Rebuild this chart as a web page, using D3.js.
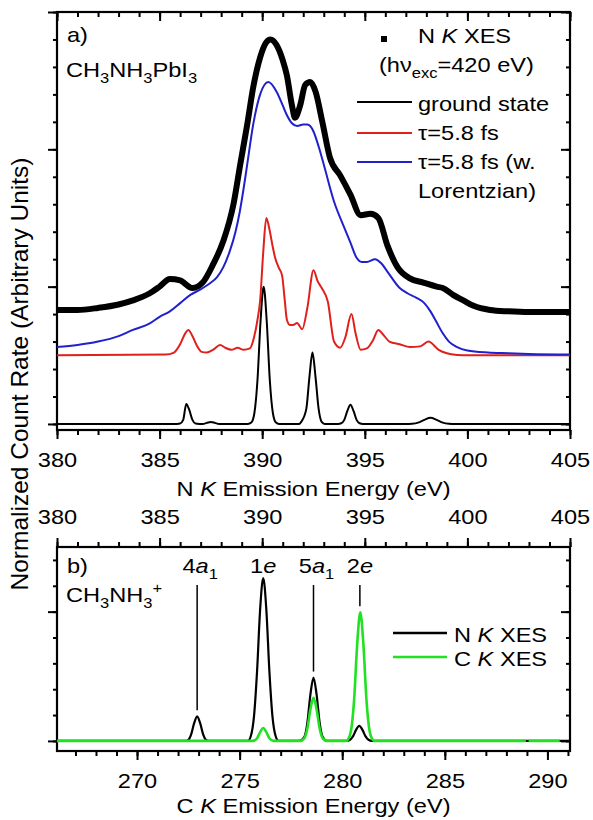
<!DOCTYPE html>
<html>
<head>
<meta charset="utf-8">
<script src="https://cdn.jsdelivr.net/npm/d3@7"></script>
<style>
body { margin: 0; background: #fff; }
svg { display: block; font-family: 'Liberation Sans', Arial, sans-serif; }
</style>
</head>
<body>
<script>
// ---- panel a: N K XES of CH3NH3PbI3 ----
const xesE = [380.0, 381.0, 382.0, 383.0, 383.7, 384.5, 385.0, 385.5, 386.0, 386.6, 387.1, 387.6, 388.1, 388.6, 388.93, 389.27, 389.56, 389.9, 390.2, 390.4, 390.7, 391.0, 391.2, 391.45, 391.6, 391.85, 392.1, 392.34, 392.6, 392.93, 393.3, 393.8, 394.3, 394.8, 395.27, 395.66, 396.1, 396.6, 397.2, 397.85, 398.5, 398.8, 399.3, 399.8, 400.3, 401.1, 402.0, 403.0, 404.0, 405.0];
const xesV = [0.83, 0.83, 0.845, 0.87, 0.90, 0.95, 1.0, 1.055, 1.045, 0.99, 1.03, 1.16, 1.33, 1.60, 1.89, 2.18, 2.45, 2.67, 2.78, 2.80, 2.76, 2.65, 2.54, 2.32, 2.23, 2.32, 2.47, 2.49, 2.42, 2.2, 1.94, 1.81, 1.67, 1.52, 1.53, 1.5, 1.3, 1.14, 1.06, 1.03, 1.0, 0.99, 0.94, 0.90, 0.86, 0.83, 0.82, 0.815, 0.815, 0.815];

const gsE = [380, 385.7, 386.0, 386.15, 386.3, 386.45, 386.6, 386.75, 387.1, 387.3, 387.5, 387.7, 387.9, 389.3, 389.47, 389.62, 389.77, 389.92, 390.07, 390.22, 390.37, 390.52, 390.67, 390.82, 391.8, 391.9, 392.15, 392.3, 392.45, 392.6, 392.75, 392.9, 393.05, 393.7, 393.85, 394.0, 394.15, 394.3, 394.45, 394.6, 394.75, 394.9, 397.0, 397.3, 397.6, 397.9, 398.2, 398.5, 398.8, 399.1, 399.4, 405];
const gsV = [0, 0, 0.004, 0.03, 0.146, 0.10, 0.03, 0.004, 0, 0.008, 0.015, 0.008, 0, 0, 0.01, 0.08, 0.32, 0.75, 1.0, 0.75, 0.32, 0.08, 0.01, 0, 0, 0.015, 0.11, 0.34, 0.52, 0.34, 0.11, 0.015, 0, 0, 0.005, 0.03, 0.095, 0.14, 0.095, 0.03, 0.005, 0, 0, 0.002, 0.01, 0.03, 0.045, 0.03, 0.01, 0.002, 0, 0];

const tauE = [380, 385.3, 385.7, 386.0, 386.25, 386.4, 386.6, 386.8, 387.05, 387.3, 387.6, 387.95, 388.2, 388.5, 388.8, 389.1, 389.4, 389.6, 389.76, 389.9, 390.05, 390.2, 390.35, 390.5, 390.63, 390.8, 390.97, 391.1, 391.2, 391.35, 391.5, 391.7, 391.95, 392.2, 392.5, 392.7, 392.9, 393.2, 393.5, 393.8, 394.05, 394.35, 394.55, 394.8, 395.1, 395.4, 395.66, 395.9, 396.2, 396.7, 397.2, 397.7, 398.1, 398.6, 399.0, 399.5, 400.0, 405];
const tauV = [0.50, 0.505, 0.52, 0.58, 0.66, 0.685, 0.64, 0.575, 0.525, 0.52, 0.54, 0.575, 0.555, 0.54, 0.555, 0.54, 0.55, 0.63, 0.75, 0.9, 1.25, 1.50, 1.42, 1.30, 1.21, 1.14, 1.08, 0.9, 0.76, 0.72, 0.72, 0.735, 0.69, 0.845, 1.12, 1.04, 0.99, 0.89, 0.60, 0.555, 0.63, 0.80, 0.66, 0.54, 0.55, 0.61, 0.685, 0.65, 0.60, 0.58, 0.56, 0.565, 0.60, 0.54, 0.515, 0.503, 0.50, 0.50];

const lorE = [380, 381, 382, 383, 383.7, 384.5, 385.0, 385.5, 386.0, 386.5, 387.0, 387.5, 387.8, 388.1, 388.4, 388.7, 388.9, 389.1, 389.27, 389.56, 389.9, 390.3, 390.7, 391.0, 391.2, 391.45, 391.7, 392.0, 392.2, 392.5, 392.75, 393.0, 393.5, 394.0, 394.3, 394.6, 394.85, 395.1, 395.5, 395.8, 396.1, 396.7, 397.1, 397.5, 397.9, 398.2, 398.5, 398.8, 399.1, 399.5, 400.0, 401.0, 402.0, 403.0, 405.0];
const lorV = [0.56, 0.575, 0.60, 0.64, 0.685, 0.73, 0.78, 0.82, 0.88, 0.94, 0.98, 1.03, 1.07, 1.14, 1.25, 1.40, 1.54, 1.72, 1.89, 2.18, 2.40, 2.49, 2.42, 2.32, 2.25, 2.19, 2.17, 2.18, 2.18, 2.13, 2.02, 1.89, 1.62, 1.43, 1.32, 1.21, 1.18, 1.18, 1.2, 1.17, 1.11, 0.99, 0.95, 0.92, 0.88, 0.82, 0.74, 0.66, 0.60, 0.56, 0.535, 0.52, 0.515, 0.51, 0.505];

// ---- panel b: CH3NH3+ calculated N K / C K XES ----
const nkE = [266.1, 272.35, 272.5, 272.63, 272.78, 272.93, 273.08, 273.23, 273.36, 273.5, 275.4, 275.55, 275.7, 275.85, 276.0, 276.15, 276.3, 276.45, 276.6, 276.75, 276.9, 277.9, 278.15, 278.3, 278.45, 278.6, 278.75, 278.9, 279.05, 279.25, 280.2, 280.38, 280.53, 280.68, 280.83, 280.98, 281.13, 281.28, 281.45, 291.1];
const nkV = [0, 0, 0.008, 0.047, 0.135, 0.19, 0.135, 0.047, 0.008, 0, 0, 0.04, 0.19, 0.54, 1.02, 1.26, 1.02, 0.54, 0.19, 0.04, 0, 0, 0.03, 0.14, 0.36, 0.49, 0.36, 0.14, 0.03, 0, 0, 0.009, 0.037, 0.087, 0.116, 0.087, 0.037, 0.009, 0, 0];

const ckE = [266.1, 275.65, 275.85, 276.0, 276.15, 276.3, 276.45, 276.65, 277.95, 278.15, 278.3, 278.45, 278.6, 278.75, 278.9, 279.05, 279.25, 280.2, 280.28, 280.43, 280.58, 280.73, 280.88, 281.03, 281.18, 281.33, 281.48, 281.58, 288.95, 289.02, 289.08, 290.6];
const ckV = [0, 0, 0.021, 0.068, 0.10, 0.068, 0.021, 0, 0, 0.02, 0.096, 0.245, 0.333, 0.245, 0.096, 0.02, 0, 0, 0.01, 0.08, 0.32, 0.75, 0.995, 0.75, 0.32, 0.08, 0.01, 0, 0, null, 0, 0];

const peakNames = [['4', ['a', 'i'], ['1', 'sub']], ['1', ['e', 'i']], ['5', ['a', 'i'], ['1', 'sub']], ['2', ['e', 'i']]];
const peakE = [272.93, 276.15, 278.6, 280.86];
const peakTop = [0.19, null, 0.49, 0.995];

const majorN = [380, 385, 390, 395, 400, 405];
const majorC = [270, 275, 280, 285, 290];

const W = 593, H = 820;
const FS = 20, SX = 1.18;
const red = '#e0201c', blue = '#2020cc', green = '#22e022';

const svg = d3.select('body').append('svg').attr('width', W).attr('height', H);

const xa = d3.scaleLinear([380, 405], [57, 570]);
const ya = d3.scaleLinear([-0.044, 3], [430, 12]);
const xbTop = d3.scaleLinear([380, 405], [57, 570]);
const xb = d3.scaleLinear([266.1, 291.1], [57, 570]);
const yb = d3.scaleLinear([-0.078, 1.5], [751, 547]);

function rich(x, y, parts, anchor = 'start', size = FS) {
    const t = svg.append('text')
        .attr('transform', `translate(${x},${y}) scale(${SX},1)`)
        .attr('text-anchor', anchor)
        .style('font-size', size + 'px');
    let shift = 0;
    parts.forEach(p => {
        const [str, kind] = typeof p === 'string' ? [p, ''] : p;
        const s = t.append('tspan').text(str);
        const want = kind === 'sub' ? 6 : kind === 'sup' ? -9 : 0;
        if (want !== shift) { s.attr('dy', want - shift); shift = want; }
        if (kind === 'sub' || kind === 'sup') s.style('font-size', '14px');
        if (kind === 'i') s.style('font-style', 'italic');
    });
    return t;
}

function styleAxis(g) {
    g.attr('font-size', null).attr('font-family', null);
    g.select('.domain').remove();
    g.selectAll('line').attr('stroke-width', 2);
}

// horizontal axis: minor + major ticks, optional labels at baseline offset
function hAxis(scale, y, major, minor, down, labelY) {
    const mk = () => down ? d3.axisBottom(scale) : d3.axisTop(scale);
    svg.append('g').attr('transform', `translate(0,${y})`)
        .call(mk().tickValues(minor).tickSize(5).tickFormat(''))
        .call(styleAxis);
    const g = svg.append('g').attr('transform', `translate(0,${y})`)
        .call(mk().tickValues(major).tickSize(9).tickFormat(labelY == null ? '' : d3.format('d')))
        .call(styleAxis);
    if (labelY != null) {
        g.selectAll('text')
            .attr('y', labelY).attr('dy', null)
            .attr('transform', `scale(${SX},1)`)
            .style('font-size', FS + 'px');
    }
}

function vAxis(scale, x, major, minor) {
    svg.append('g').attr('transform', `translate(${x},0)`)
        .call(d3.axisLeft(scale).tickValues(minor).tickSize(4).tickFormat(''))
        .call(styleAxis);
    svg.append('g').attr('transform', `translate(${x},0)`)
        .call(d3.axisLeft(scale).tickValues(major).tickSize(9).tickFormat(''))
        .call(styleAxis);
}

const minorN = d3.range(380, 405.5, 1);
const minorC = d3.range(267, 291.5, 1);

// panel a axes
hAxis(xa, 430, majorN, minorN, true, 37);
hAxis(xa, 12, majorN, minorN, true, null);
vAxis(ya, 57, [0, 1, 2, 3], d3.range(0, 3.01, 0.2));
vAxis(ya, 570, [0, 1, 2, 3], d3.range(0, 3.01, 0.2));
svg.append('rect').attr('x', 57).attr('y', 12).attr('width', 513).attr('height', 418)
    .attr('fill', 'none').attr('stroke', '#000').attr('stroke-width', 2.2);

// panel b axes
hAxis(xbTop, 547, majorN, minorN, false, -23);
hAxis(xb, 751, majorC, minorC, true, 37);
vAxis(yb, 57, [0, 1], d3.range(0, 1.41, 0.2));
vAxis(yb, 570, [0, 1], d3.range(0, 1.41, 0.2));
svg.append('rect').attr('x', 57).attr('y', 547).attr('width', 513).attr('height', 204)
    .attr('fill', 'none').attr('stroke', '#000').attr('stroke-width', 2.2);

// curves
const lineA = d3.line().x(d => xa(d[0])).y(d => ya(d[1])).curve(d3.curveMonotoneX);
const lineB = d3.line().defined(d => d[1] != null).x(d => xb(d[0])).y(d => yb(d[1])).curve(d3.curveMonotoneX);
const pairs = (E, V) => E.map((e, i) => [e, V[i]]);

function curve(line, E, V, color, w) {
    svg.append('path').datum(pairs(E, V)).attr('d', line)
        .attr('fill', 'none').attr('stroke', color).attr('stroke-width', w)
        .attr('stroke-linejoin', 'round');
}

curve(lineA, gsE, gsV, '#000', 2);
curve(lineA, tauE, tauV, red, 2);
curve(lineA, lorE, lorV, blue, 2);
curve(lineA, xesE, xesV, '#000', 6);

curve(lineB, nkE, nkV, '#000', 2.2);
curve(lineB, ckE, ckV, green, 2.6);

// peak labels in panel b
peakE.forEach((e, i) => {
    const hasSub = peakNames[i].length > 2;
    rich(xb(e) + (hasSub ? 3 : 0), 573, peakNames[i], 'middle');
    if (peakTop[i] != null) {
        svg.append('line').attr('x1', xb(e)).attr('x2', xb(e))
            .attr('y1', 585).attr('y2', yb(peakTop[i]) - 6)
            .attr('stroke', '#000').attr('stroke-width', 1.5);
    }
});

// panel texts
rich(67, 42, ['a)']);
rich(66, 77, ['CH', ['3', 'sub'], 'NH', ['3', 'sub'], 'PbI', ['3', 'sub']]);
rich(67, 573, ['b)']);
rich(66, 602, ['CH', ['3', 'sub'], 'NH', ['3', 'sub'], ['+', 'sup']]);

// legend a
svg.append('rect').attr('x', 381).attr('y', 36).attr('width', 6).attr('height', 6).attr('fill', '#000');
rich(418, 43, ['N ', ['K', 'i'], ' XES']);
rich(379, 72, ['(hν', ['exc', 'sub'], '=420 eV)']);
const legA = [['#000', 102, 111, ['ground state']], [red, 133, 140, ['τ=5.8 fs']], [blue, 162, 169, ['τ=5.8 fs (w.']]];
legA.forEach(([c, ly, ty, txt]) => {
    svg.append('line').attr('x1', 357).attr('x2', 412).attr('y1', ly).attr('y2', ly)
        .attr('stroke', c).attr('stroke-width', 2);
    rich(418, ty, txt);
});
rich(418, 198, ['Lorentzian)']);

// legend b
[['#000', 633, 642, ['N ', ['K', 'i'], ' XES']], [green, 657, 666, ['C ', ['K', 'i'], ' XES']]].forEach(([c, ly, ty, txt]) => {
    svg.append('line').attr('x1', 393).attr('x2', 447).attr('y1', ly).attr('y2', ly)
        .attr('stroke', c).attr('stroke-width', 2.4);
    rich(454, ty, txt);
});

// axis titles
rich(313.5, 496, ['N ', ['K', 'i'], ' Emission Energy (eV)'], 'middle');
rich(313.5, 813, ['C ', ['K', 'i'], ' Emission Energy (eV)'], 'middle');
svg.append('text')
    .attr('transform', 'translate(28,374) rotate(-90)')
    .attr('text-anchor', 'middle')
    .style('font-size', '24.5px')
    .text('Normalized Count Rate (Arbitrary Units)');
</script>
</body>
</html>
